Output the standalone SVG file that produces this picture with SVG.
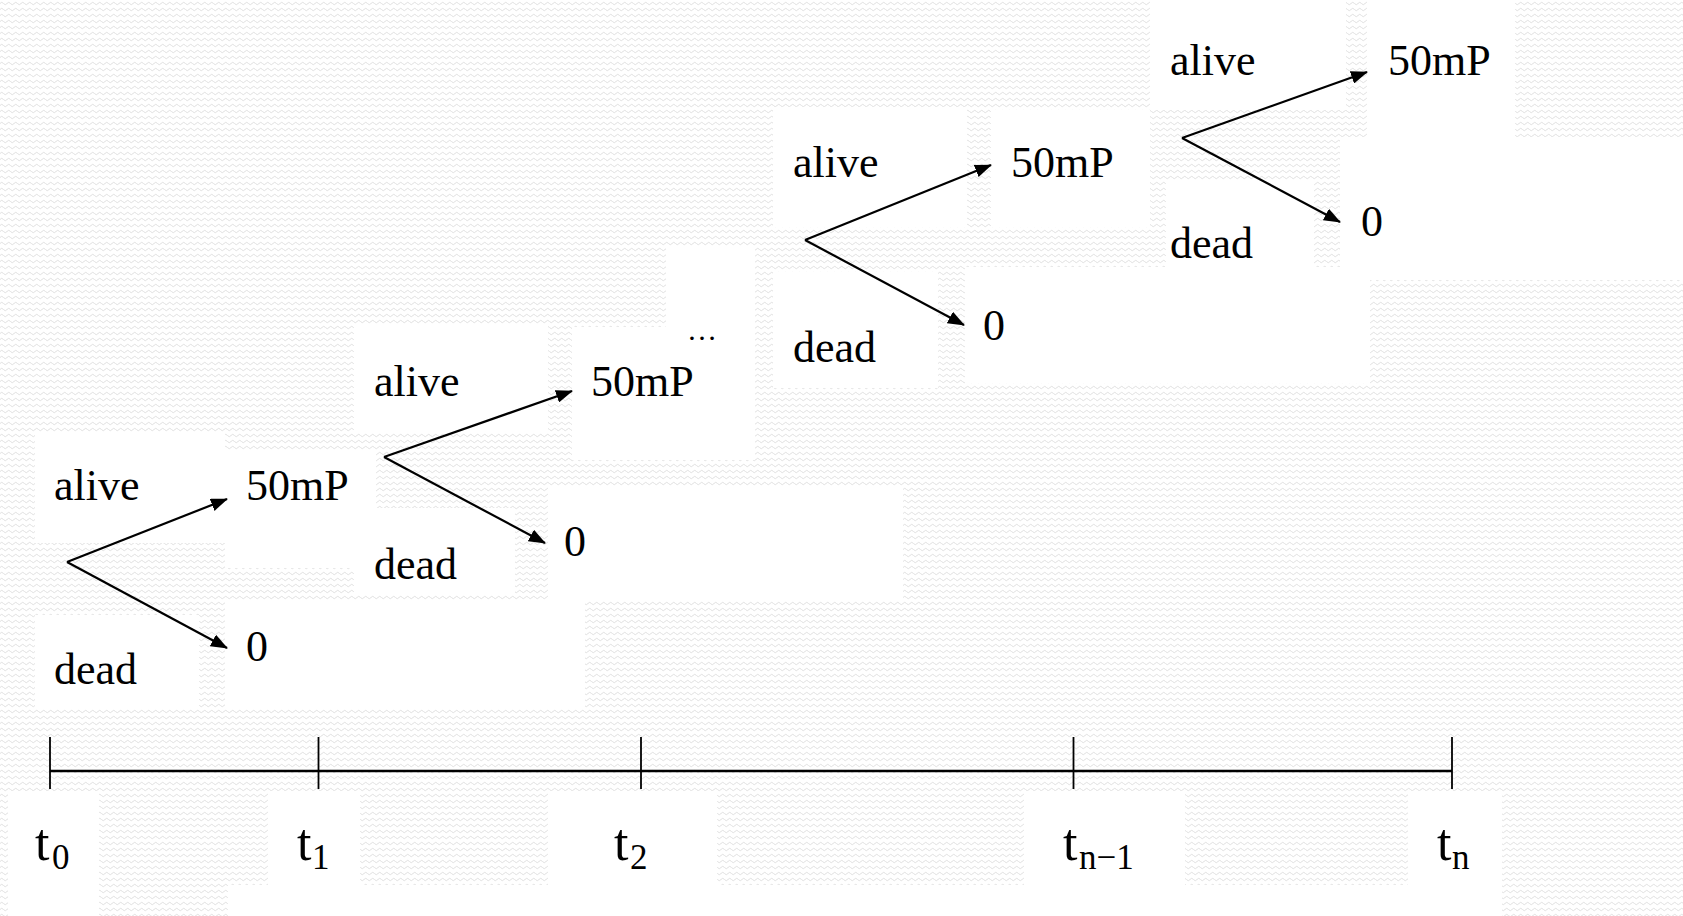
<svg xmlns="http://www.w3.org/2000/svg" width="1683" height="916" viewBox="0 0 1683 916">
<style>
.lbl{font-family:"Liberation Serif","Times New Roman",serif;font-size:44px;fill:#000}
.tm{font-family:"Liberation Serif","Times New Roman",serif;font-size:52px;fill:#000}
.sub{font-family:"Liberation Serif","Times New Roman",serif;font-size:35px;fill:#000}
.ar{stroke:#000;stroke-width:2.2;fill:none;marker-end:url(#ah)}
.ax{stroke:#000;stroke-width:2.5;fill:none}
.tk{stroke:#000;stroke-width:1.8;fill:none}
.wb{fill:#fff}
</style>
<defs>
<pattern id="wave" width="7" height="6" patternUnits="userSpaceOnUse">
<path d="M0 3.5 Q1.75 1 3.5 3.5 T7 3.5" fill="none" stroke="#e0e0e0" stroke-width="1"/>
</pattern>
<marker id="ah" markerWidth="17" markerHeight="13" refX="16" refY="6.5" orient="auto" markerUnits="userSpaceOnUse">
<path d="M0,0 L17,6.5 L0,13 z" fill="#000"/>
</marker>
</defs>
<rect width="1683" height="916" fill="#fff"/>
<rect width="1683" height="916" fill="url(#wave)"/>
<g id="boxes">
<rect class="wb" x="35" y="432" width="190" height="111"/>
<rect class="wb" x="225" y="450" width="151" height="118"/>
<rect class="wb" x="35" y="615" width="164" height="93"/>
<rect class="wb" x="225" y="601" width="360" height="107"/>
<rect class="wb" x="354" y="325" width="194" height="108"/>
<rect class="wb" x="572" y="327" width="183" height="133"/>
<rect class="wb" x="354" y="508" width="161" height="87"/>
<rect class="wb" x="548" y="487" width="355" height="114"/>
<rect class="wb" x="666" y="247" width="89" height="80"/>
<rect class="wb" x="773" y="107" width="194" height="120"/>
<rect class="wb" x="991" y="110" width="159" height="117"/>
<rect class="wb" x="773" y="272" width="165" height="116"/>
<rect class="wb" x="965" y="267" width="405" height="116"/>
<rect class="wb" x="1150" y="0" width="196" height="110"/>
<rect class="wb" x="1367" y="0" width="148" height="137"/>
<rect class="wb" x="1166" y="180" width="148" height="95"/>
<rect class="wb" x="1340" y="137" width="343" height="143"/>
<rect class="wb" x="8" y="791" width="91" height="125"/>
<rect class="wb" x="268" y="791" width="92" height="94"/>
<rect class="wb" x="548" y="791" width="169" height="94"/>
<rect class="wb" x="1024" y="791" width="161" height="94"/>
<rect class="wb" x="1408" y="791" width="94" height="125"/>
<rect class="wb" x="228" y="885" width="1274" height="31"/>
</g>
<g id="connectors">
<line class="ar" x1="67" y1="562" x2="227" y2="499"/>
<line class="ar" x1="67" y1="562" x2="227" y2="648"/>
<line class="ar" x1="384" y1="457" x2="572" y2="391"/>
<line class="ar" x1="384" y1="457" x2="545" y2="543"/>
<line class="ar" x1="805" y1="240" x2="991" y2="165"/>
<line class="ar" x1="805" y1="240" x2="964" y2="325"/>
<line class="ar" x1="1182" y1="138" x2="1367" y2="72"/>
<line class="ar" x1="1182" y1="138" x2="1340" y2="222"/>
</g>
<g id="timeline">
<line class="ax" x1="50" y1="771" x2="1452" y2="771"/>
<line class="tk" x1="50" y1="737" x2="50" y2="789"/>
<line class="tk" x1="318.5" y1="737" x2="318.5" y2="789"/>
<line class="tk" x1="641" y1="737" x2="641" y2="789"/>
<line class="tk" x1="1073.5" y1="737" x2="1073.5" y2="789"/>
<line class="tk" x1="1452" y1="737" x2="1452" y2="789"/>
</g>
<g id="tree1">
<text class="lbl" x="54" y="500">alive</text>
<text class="lbl" x="246" y="500">50mP</text>
<text class="lbl" x="54" y="684">dead</text>
<text class="lbl" x="246" y="661">0</text>
</g>
<g id="tree2">
<text class="lbl" x="374" y="396">alive</text>
<text class="lbl" x="591" y="396">50mP</text>
<text class="lbl" x="374" y="579">dead</text>
<text class="lbl" x="564" y="556">0</text>
</g>
<g id="ellipsis">
<text class="lbl" x="687" y="340" style="font-size:30px">…</text>
</g>
<g id="tree3">
<text class="lbl" x="793" y="177">alive</text>
<text class="lbl" x="1011" y="177">50mP</text>
<text class="lbl" x="793" y="362">dead</text>
<text class="lbl" x="983" y="340">0</text>
</g>
<g id="tree4">
<text class="lbl" x="1170" y="75">alive</text>
<text class="lbl" x="1388" y="75">50mP</text>
<text class="lbl" x="1170" y="258">dead</text>
<text class="lbl" x="1361" y="236">0</text>
</g>
<g id="label-t0"><text class="tm" x="35" y="860">t</text><text class="sub" x="52" y="869">0</text></g>
<g id="label-t1"><text class="tm" x="297" y="860">t</text><text class="sub" x="312" y="869">1</text></g>
<g id="label-t2"><text class="tm" x="614" y="860">t</text><text class="sub" x="630" y="869">2</text></g>
<g id="label-tn-1"><text class="tm" x="1063" y="860">t</text><text class="sub" x="1079" y="869">n−1</text></g>
<g id="label-tn"><text class="tm" x="1437" y="860">t</text><text class="sub" x="1452" y="869">n</text></g>
</svg>
